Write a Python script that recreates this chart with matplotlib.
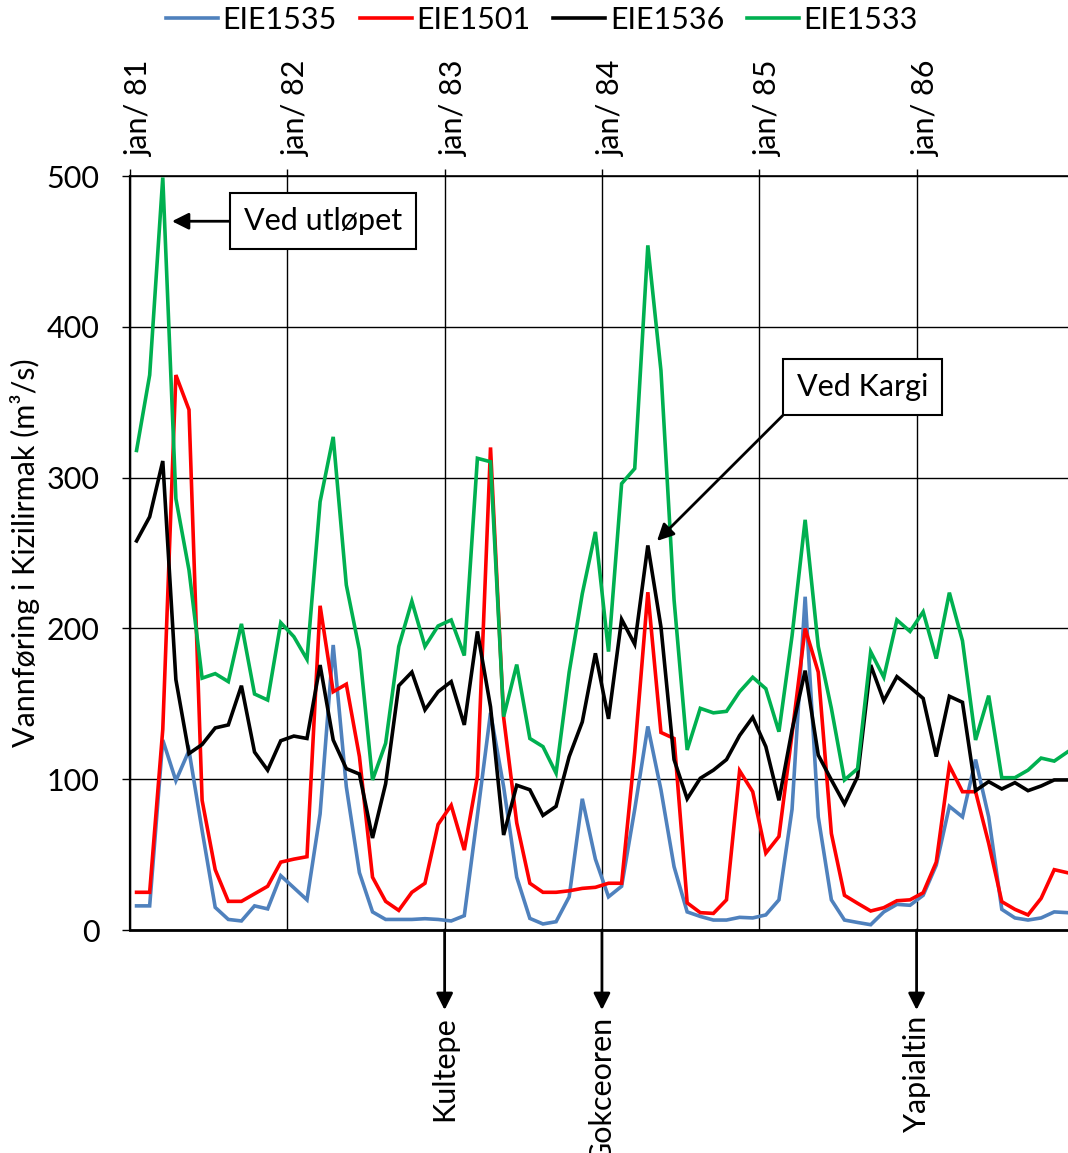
import matplotlib
matplotlib.use("Agg")
import matplotlib.pyplot as plt
import matplotlib.transforms as mtransforms
import numpy as np

plt.rcParams['font.family'] = ['Lato', 'DejaVu Sans']

# ---- data (monthly, jan 1981 - dec 1986) ----
series_names = ["EIE1535", "EIE1501", "EIE1536", "EIE1533"]
series_colors = ["#4F81BD", "#FF0000", "#000000", "#00B050"]

eie1535 = [16, 16, 126, 99, 119, 66, 15, 7, 6, 16, 14, 36,
           28, 20, 77, 189, 95, 38, 12, 7, 7, 7, 7.5, 7,
           6, 9.5, 76, 144, 95, 35, 7.7, 4, 5.5, 22, 87, 47,
           22, 29, 80, 135, 93, 42, 12, 9, 6.6, 6.6, 8.4, 8,
           10, 20, 80, 221, 75, 20, 6.6, 5, 3.5, 12, 17, 16.4,
           23, 43, 82, 75, 113, 75, 13.7, 8, 6.6, 8, 12, 11.5]

eie1501 = [25, 25, 133, 368, 345, 86, 40, 19, 19, 24, 29, 45,
           47, 48.6, 215, 158, 163, 115, 35, 19, 13, 25, 31, 70,
           82.7, 53, 102, 320, 141, 71, 31, 25, 25, 26, 27.6, 28.3,
           31, 31, 118, 224, 131, 127, 18, 11.5, 11, 20, 105.6, 91.7,
           51, 62, 130, 200, 171, 64, 23, 17.7, 12.6, 14.8, 19.4, 20,
           24.7, 45, 109, 91.7, 91.7, 57.5, 18.8, 13.7, 10, 21, 40, 38]

eie1536 = [258, 274, 311, 166, 117, 123, 134, 136, 162, 118, 106, 125.5,
           128.6, 127, 175.7, 126, 107, 103.4, 61, 97, 162, 171, 146, 158,
           164.7, 136, 198, 148, 63, 96, 93, 76, 82, 115, 138, 183.5,
           140, 206, 189.5, 255, 201, 113, 87, 100.6, 106, 113, 129, 141,
           121.6, 86, 132.6, 172, 116, 99.5, 83.6, 101.7, 175.7, 152, 168, 161,
           153.6, 115, 155, 151, 92.4, 98.4, 93.5, 97.7, 92.4, 95.5, 99.5, 99.5]

eie1533 = [318, 368, 499, 286, 238.7, 167, 170, 164.7, 203, 156.5, 152.5, 203.8,
           194.5, 179.5, 284, 327, 228.8, 185.7, 99.5, 123.8, 188, 218, 188, 201.6,
           205.6, 182, 312.8, 310.5, 141.5, 176, 127, 121.6, 104, 171, 223, 264,
           184.6, 296, 306, 454, 371, 219, 119.4, 147, 144, 145, 158, 167.6,
           160, 131.5, 195, 272, 188, 147, 99.5, 107, 184.5, 167.6, 205.6, 198,
           211, 180, 223.7, 191.8, 126, 155.4, 101, 101, 106, 114, 112, 118]

year_ticks = ["jan/ 81", "jan/ 82", "jan/ 83", "jan/ 84", "jan/ 85", "jan/ 86"]
y_ticks = [0, 100, 200, 300, 400, 500]

stations = ["Kultepe", "Gokceoren", "Yapialtin"]
station_month = [24, 36, 60]

all_series = [eie1535, eie1501, eie1536, eie1533]

# ---- figure ----
W, H = 1068, 1153
fig = plt.figure(figsize=(W / 100, H / 100), dpi=100)
ax_left, ax_right, ax_top, ax_bot = 130, 1068, 176, 930
ax = fig.add_axes([ax_left / W, 1 - ax_bot / H, (ax_right - ax_left) / W, (ax_bot - ax_top) / H])

months = np.arange(len(eie1535)) + 0.5
for name, col, vals in zip(series_names, series_colors, all_series):
    ax.plot(months, vals, color=col, lw=2.6, label=name, solid_joinstyle='miter', zorder=3)

FS = 22
ax.set_xlim(0, 71.55)
ax.set_ylim(0, 500)
ax.set_yticks(y_ticks)
ax.set_yticklabels([str(v) for v in y_ticks], fontsize=FS)
ax.set_xticks(np.arange(len(year_ticks)) * 12)
ax.set_xticklabels(year_ticks, rotation=90, fontsize=FS)
ax.xaxis.tick_top()
ax.tick_params(axis='x', which='both', top=True, bottom=False, direction='out',
               length=5, width=1, pad=9)
ax.tick_params(axis='y', direction='out', length=6, width=1, pad=16)
shift = mtransforms.ScaledTranslation(9 / 100, 0, fig.dpi_scale_trans)
for lbl in ax.get_xticklabels():
    lbl.set_transform(lbl.get_transform() + shift)
ax.grid(True, color='black', lw=1.0, zorder=1)
ax.set_axisbelow(True)
ax.spines['right'].set_visible(False)
ax.spines['left'].set_linewidth(1.6)
ax.spines['bottom'].set_linewidth(2.0)
ax.spines['top'].set_linewidth(1.2)

fig.text(25 / W, 1 - 553 / H, "Vannføring i Kizilirmak (m³/s)", rotation=90,
         ha='center', va='center', fontsize=FS)

# legend
handles, labels = ax.get_legend_handles_labels()
fig.legend(handles, labels, loc='center', bbox_to_anchor=(542 / W, 1 - 20 / H), ncol=4,
           frameon=False, fontsize=FS, handlelength=1.7, handletextpad=0.15,
           columnspacing=0.75)

# annotations with boxes
box = dict(boxstyle='square,pad=0.45', fc='white', ec='black', lw=1.5)
ax.annotate("Ved utløpet", xy=(3.2, 470), xytext=(14.7, 470), ha='center', va='center',
            fontsize=FS, bbox=box, zorder=5,
            arrowprops=dict(arrowstyle='-|>', color='black', lw=2, mutation_scale=25,
                            shrinkA=0, shrinkB=0, relpos=(0, 0.5)))
ax.annotate("Ved Kargi", xy=(40.2, 258), xytext=(55.9, 360), ha='center', va='center',
            fontsize=FS, bbox=box, zorder=5,
            arrowprops=dict(arrowstyle='-|>', color='black', lw=2, mutation_scale=25,
                            shrinkA=0, shrinkB=0, relpos=(0, 0)))

# station arrows below the axis
trans = ax.get_xaxis_transform()
arrow_len = 80 / (ax_bot - ax_top)
for name, m in zip(stations, station_month):
    ax.annotate('', xy=(m, -arrow_len), xycoords=trans, xytext=(m, 0), textcoords=trans,
                annotation_clip=False,
                arrowprops=dict(arrowstyle='-|>', color='black', lw=2, mutation_scale=25,
                                shrinkA=0, shrinkB=0))
    ax.text(m, -arrow_len - 6 / (ax_bot - ax_top), name, transform=trans, rotation=90,
            ha='center', va='top', fontsize=FS, clip_on=False)

fig.savefig("out.png", dpi=100)
